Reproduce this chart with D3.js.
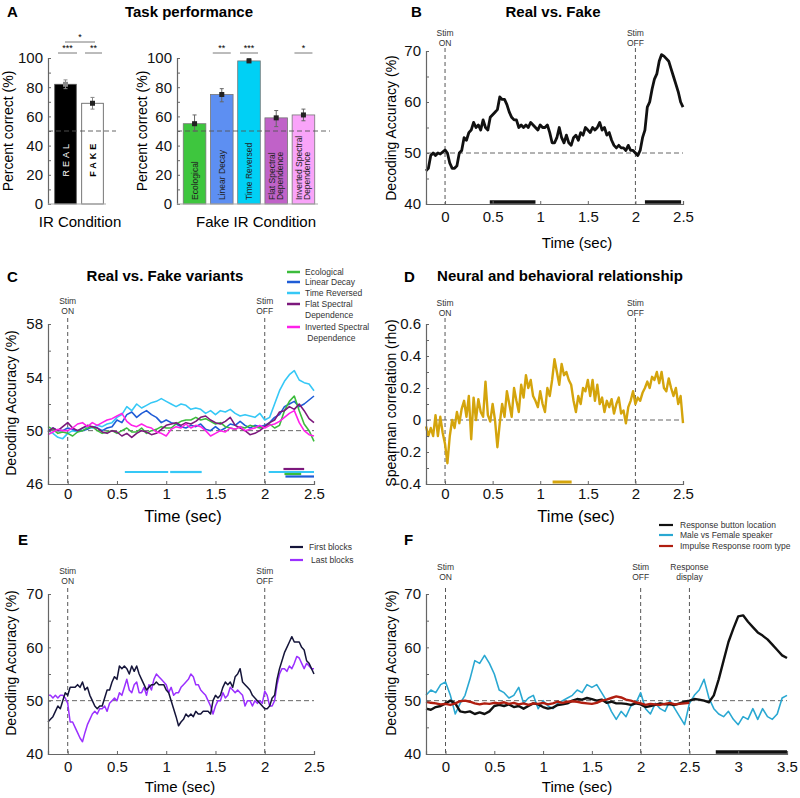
<!DOCTYPE html>
<html><head><meta charset="utf-8">
<script src="https://cdn.jsdelivr.net/npm/d3@7"></script>
<style>body{margin:0;background:#fff}svg{display:block;font-family:"Liberation Sans",Arial,sans-serif}</style>
</head><body><svg id="c" width="800" height="798"></svg>
<script>
// ---------- DATA ----------
const irCategories = ["REAL", "FAKE"];
const irValues = [82, 69];
const irErrLow = [79, 65];
const irErrHigh = [85, 73];

const fakeCategories = ["Ecological", "Linear Decay", "Time Reversed", "Flat Spectral Dependence", "Inverted Spectral Dependence"];
const fakeValues = [55, 75, 98, 59, 61];
const fakeErrLow = [50, 70, 97, 53, 57];
const fakeErrHigh = [61, 79, 99.5, 64, 65];
const fakeSig = ["", "**", "***", "", "*"];

const timeTicks = [0, 0.5, 1, 1.5, 2, 2.5];
const timeTicksF = [0, 0.5, 1, 1.5, 2, 2.5, 3, 3.5];

// Panel B: Real vs Fake (t from -0.2, step 0.025)
const realFake = [46.5,47,49.5,50,49.5,50,49.8,50.2,50.6,50,48,47,47,47.5,50,50.5,53,52.5,54,54.5,56,55,55.5,54.5,56.5,55,54.5,57,57.5,58,58.5,61,60.5,60.5,59.5,58,57,56.5,56.5,55,55.5,55,55.5,55,56,55.5,55,54.5,55.5,55,55,55.5,54,52,52,53,55,53,52,53.5,52,51.5,53,53.5,52.5,54,53.5,55,54.5,54,55,54.5,55,56,54.5,55,53.5,54,52.5,51.5,51,51.5,51,51,50.5,51.5,50.5,50.5,50,49.5,50.5,53,54.5,59,60,62.5,64.5,65.5,68,69.3,69,68.5,68,66.5,65,63.5,62,60,59];
const realFakeSig = [[0.47, 0.95], [2.1, 2.48]];

// Panel C: variants (t from -0.2, step 0.05)
const ecological = [50.3,50.1,49.8,49.9,49.8,49.6,49.9,50,50.2,50.3,50,49.8,49.9,50,49.8,50,50.2,49.9,49.9,50.2,49.8,50,50.1,50.3,50.2,50.2,50.5,50.7,50.8,50.8,51,50.8,50.9,50.7,50.5,50.6,50.3,50.2,50.1,50.3,50.2,50.4,50.3,50.2,50.3,50.5,50.2,50.4,51.5,52.2,52.6,51.5,50.5,50,49.2];
const linearDecay = [50,50.2,50,50,50.2,50.1,50,50,50.1,50.3,50.2,50,50.2,50.3,50.8,50.6,51.2,51.4,51,51.3,51.5,51.2,51,50.6,50.8,50.6,50.5,50.3,50.2,50.4,50.3,50.5,50.1,50,50.3,50,50.2,50.5,50.4,50.7,50.4,50.2,50.4,50.3,50.4,50.6,51,51.2,51.8,52,52.2,51.8,52,52.3,52.6];
const timeReversed = [50,49.8,49.5,49.4,49.8,50,49.9,50.2,50.3,50.2,50.4,50.3,50.5,50.6,51,51.2,51.8,51.5,52,51.7,51.9,52.1,52.2,52.4,52.2,52,51.8,52,51.9,51.6,51.7,51.6,51.3,51.5,51.2,51.5,51.4,51.6,51.3,51.1,51.2,51.1,51,51.3,50.8,51,52,53,53.7,54.2,54.5,53.8,53.6,53.5,53];
const flatSpectral = [49.9,50.2,50,50.3,50.6,50.2,50,50.2,50.4,50.3,50.2,49.9,49.8,50,49.9,49.6,49.8,49.5,49.8,50,49.9,49.7,49.8,50.1,50.4,50.5,50.6,50.4,50.6,50.5,50.7,51,51.1,50.8,50.6,50.5,50.7,51,50.4,50.2,50,49.7,49.8,50,50.3,50.6,50.8,51.4,51.5,51.8,51.6,52,51.5,50.9,50.6];
const invertedSpectral = [49.7,49.9,50.1,50,50,50.2,50.5,50.6,50.3,50.6,50.4,50.6,50.8,50.9,51.1,51.3,50.7,50.4,50.3,50.5,50.3,50.2,49.9,49.8,49.6,50.1,50.3,50.2,50.5,50.2,50.4,50.3,50,49.6,49.8,50,49.9,50.2,50.1,50.3,50,50.1,50.2,50.4,50.2,50.4,50.5,50.7,51,51.3,51.5,50.6,50,49.7,49.6];
const variantNames = ["Ecological", "Linear Decay", "Time Reversed", "Flat Spectral\nDependence", "Inverted Spectral\n Dependence"];
const variantSig = [
  {series: 2, ranges: [[0.58, 1.02], [1.04, 1.36], [2.04, 2.5]]},
  {series: 3, ranges: [[2.19, 2.4]]},
  {series: 0, ranges: [[2.2, 2.37]]},
  {series: 1, ranges: [[2.21, 2.5]]}
];

// Panel D: Spearman rho (t from -0.2, step 0.025)
const rho = [-0.04,-0.1,-0.05,-0.1,0.03,-0.1,0.02,-0.08,-0.15,-0.27,-0.1,0,-0.05,0.05,-0.02,0.07,0.12,0.02,0.15,-0.12,0.14,0,0.13,0.05,0.02,0.24,0.03,-0.01,0.1,0,-0.17,-0.02,0.1,0.02,0.18,0.1,0.02,0.2,0.12,0.05,0.22,0.14,0.28,0.2,0.25,0.15,0.12,0.08,0.18,0.1,0.05,0.2,0.15,0.25,0.38,0.3,0.22,0.35,0.28,0.3,0.25,0.22,0.12,0.05,0.15,0.1,0.2,0.18,0.25,0.15,0.25,0.12,0.22,0.1,0.14,0.05,0.12,0.08,0.13,0.04,0.1,0.14,0.04,0.06,-0.02,0.08,0.12,0.18,0.1,0.14,0.12,0.17,0.2,0.24,0.2,0.27,0.25,0.3,0.23,0.3,0.2,0.18,0.26,0.2,0.15,0.2,0.1,0.15,-0.02];
const rhoSig = [[1.13, 1.33]];

// Panel E: first / last blocks (t from -0.2, step 0.025)
const firstBlocks = [46,46.5,47,48,49,48.5,50,51.5,51,52.5,52.5,52.5,53,52.5,53.5,52,52.5,51,50,49,48.5,49,49,50.5,52,52,53.5,54.5,54,56.5,56,56.5,56,55,56.5,55.5,56.5,55,54,53,52,52.5,53,53,53.5,53,53,53,52,51.5,50,48.5,47,45.3,46,46.5,47.5,47,47.5,47,48,47.5,47.5,48,48,48,47.5,50,51,50.5,51,52.5,53.5,53,53.5,52.5,54.5,55,56,53.5,53,52.5,52,51,50.5,50,49.5,49,48.5,48.5,49,50.5,51,54,56,57.5,59,60,61,62,61,61,61,60,59.5,57.5,57,56,55];
const lastBlocks = [51,51,50.5,51,50.5,51,51,50.5,49.5,46,46,45,44,43,42.3,44,45.5,46.5,47.5,48,47.5,48.5,48.5,49,48,49.5,50,50.5,50,51.5,51,52.5,54,52,51.5,53,53.5,51.5,51.5,52.5,51,53,52,54,55,54.5,54,53.5,53,51.5,52.5,51,51.5,51.5,52.5,53,53.5,54,55,54.5,53,53,52,51.5,51,50,49,47.5,49,50,50,51.5,50.5,51,52.5,52,51.5,52,51.5,51,49,50,50,49,50,49.5,50,49.5,51.8,51,49,49,50,53,55,56,56,55.5,56.5,56,57,58.3,58,57,56,57,56.5,56,56];
const blockNames = ["First blocks", "Last blocks"];

// Panel F (t from -0.2, step 0.05)
const responseButton = [48.5,48.3,48.8,49,49.5,50,49.5,48,47.8,48,47.5,47.8,47.5,48,49,49.2,49,49.3,48.8,49,48.5,49,49.5,49.3,48.8,48.5,48.7,49.2,49.3,49.5,50,50.3,50.2,50.5,50.3,50,50.2,49.6,49.8,49.5,49.5,49.4,49.2,49.5,49.3,48.8,49,49.2,49.5,49.3,49.3,49.2,49.5,49.8,50,50.3,50.2,50,49.7,51,54,57.5,61,63.5,65.8,66,64.8,63.8,62.8,62.2,61.5,60.5,59.5,58.5,58];
const speakerSex = [51,52,51.5,53,53.5,51,47.5,49.5,51,54,57.5,57,58.5,57,55,52,51.5,50.5,51,52.5,49.5,50.5,51,48.5,50,49,48.5,49.5,50,50.5,51,52,51.5,53,52.5,53,51.5,50,48,46.5,48,47,49,49.5,51.5,48.5,47.5,49.5,48.5,48,50,48.5,47,45.5,49.5,51,52,54,50.5,48.5,47.5,47,48,46.5,45.5,47,46.5,48.5,46.5,48.5,47,46.5,47.5,50.5,51];
const roomType = [49.8,49.6,49.5,49.3,49.4,49.2,49.5,49.9,50,49.8,49.5,49.3,49.5,49.4,49.6,49.5,49.7,49.4,49.6,49.3,49.5,49.2,49.5,49.4,49.6,49.3,49.5,49.8,49.6,49.8,49.9,49.8,49.6,49.5,49.4,49.6,50,50.2,50.5,50.8,50.6,50.2,50,49.7,49.5,49.2,49.4,49.3,49.2,49.4,49.6,49.3,49.4,49.5,49.6];
const fNames = ["Response button location", "Male vs Female speaker", "Impulse Response room type"];
const fSig = [[2.77, 3.5]];

// ---------- DRAWING ----------
const svg = d3.select("#c");
const FONT = '"Liberation Sans",Arial,sans-serif';
const AX = "#666";

function tSeries(vals, start, step){ return vals.map((v,i)=>({t: start + i*step, v})); }

function panelLetter(x,y,l){
  svg.append("text").attr("x",x).attr("y",y).attr("font-size",15).attr("font-weight","bold").text(l);
}
function title(x,y,t){
  svg.append("text").attr("x",x).attr("y",y).attr("text-anchor","middle").attr("font-size",15).attr("font-weight","bold").text(t);
}
function yLabel(x,y,t,fs){
  svg.append("text").attr("transform",`translate(${x},${y}) rotate(-90)`).attr("text-anchor","middle").attr("font-size",fs||14).text(t);
}
function yAxis(g, y, major, minor, x0, fmt){
  const ax = d3.axisLeft(y).tickValues(major).tickSize(-3).tickPadding(5).tickFormat(fmt||d3.format("~g"));
  const gg = g.append("g").attr("transform",`translate(${x0},0)`).call(ax);
  gg.select(".domain").attr("stroke",AX).attr("stroke-width",1.2);
  gg.selectAll(".tick line").attr("stroke",AX);
  gg.selectAll("text").attr("font-size",15).attr("font-family",FONT).attr("fill","#111");
  if(minor){
    const ax2 = d3.axisLeft(y).tickValues(minor).tickSize(-3).tickFormat("");
    const g2 = g.append("g").attr("transform",`translate(${x0},0)`).call(ax2);
    g2.select(".domain").remove(); g2.selectAll(".tick line").attr("stroke",AX);
  }
}
function xAxis(g, x, ticks, y0, pad){
  const ax = d3.axisBottom(x).tickValues(ticks).tickSize(-3).tickPadding(pad||7).tickFormat(d3.format("~g"));
  const gg = g.append("g").attr("transform",`translate(0,${y0})`).call(ax);
  gg.select(".domain").attr("stroke",AX).attr("stroke-width",1.2);
  gg.selectAll(".tick line").attr("stroke",AX);
  gg.selectAll("text").attr("font-size",15).attr("font-family",FONT).attr("fill","#111");
}
function stimMarker(g, x, tval, y, yTop, yBot, lines){
  const xp = x(tval);
  g.append("line").attr("x1",xp).attr("x2",xp).attr("y1",yTop).attr("y2",yBot)
    .attr("stroke","#444").attr("stroke-width",0.9).attr("stroke-dasharray","4,3");
  lines.forEach((s,i)=>g.append("text").attr("x",xp).attr("y",y+i*10).attr("text-anchor","middle")
    .attr("font-size",8.5).attr("fill","#333").text(s));
}
function hDash(g, x1, x2, yp){
  g.append("line").attr("x1",x1).attr("x2",x2).attr("y1",yp).attr("y2",yp)
    .attr("stroke","#555").attr("stroke-width",0.9).attr("stroke-dasharray","5,3");
}
function drawLine(g, x, y, data, color, w){
  g.append("path").datum(data).attr("fill","none").attr("stroke",color).attr("stroke-width",w)
    .attr("stroke-linejoin","round").attr("d",d3.line().x(d=>x(d.t)).y(d=>y(d.v)));
}
function sigBar(g, x, r, yp, color, w){
  g.append("line").attr("x1",x(r[0])).attr("x2",x(r[1])).attr("y1",yp).attr("y2",yp)
    .attr("stroke",color).attr("stroke-width",w);
}
function xLabel(x,y,t,fs){
  svg.append("text").attr("x",x).attr("y",y).attr("text-anchor","middle").attr("font-size",fs||15).text(t);
}

// ===== Panel A =====
panelLetter(7,17,"A");
title(189,17,"Task performance");
{
  const g = svg.append("g");
  const y = d3.scaleLinear().domain([0,100]).range([204,58]);
  const x = d3.scaleBand().domain(irCategories).range([52,106]).paddingInner(0.2).paddingOuter(0.1);
  const cols = ["#000","#fff"];
  irCategories.forEach((c,i)=>{
    g.append("rect").attr("x",x(c)).attr("y",y(irValues[i])).attr("width",x.bandwidth()).attr("height",y(0)-y(irValues[i]))
      .attr("fill",cols[i]).attr("stroke","#555").attr("stroke-width",0.8);
  });
  hDash(g, 48, 116, y(50));
  irCategories.forEach((c,i)=>{
    const cx = x(c)+x.bandwidth()/2;
    g.append("line").attr("x1",cx).attr("x2",cx).attr("y1",y(irErrLow[i])).attr("y2",y(irErrHigh[i])).attr("stroke","#888").attr("stroke-width",1);
    [irErrLow[i],irErrHigh[i]].forEach(v=>g.append("line").attr("x1",cx-2).attr("x2",cx+2).attr("y1",y(v)).attr("y2",y(v)).attr("stroke","#888"));
    g.append("rect").attr("x",cx-2.5).attr("y",y(irValues[i])-2.5).attr("width",5).attr("height",5).attr("fill",i===0?"#888":"#222");
    g.append("text").attr("transform",`translate(${cx+3},${y(31)}) rotate(-90)`).attr("text-anchor","middle")
      .attr("font-size",9).attr("letter-spacing",3).attr("font-weight",i===0?"normal":"bold")
      .attr("fill",i===0?"#fff":"#000").text(c);
  });
  yAxis(g, y, [0,20,40,60,80,100], [10,30,50,70,90], 48);
  g.append("line").attr("x1",48).attr("x2",106).attr("y1",204).attr("y2",204).attr("stroke","#aaa").attr("stroke-width",1.2);
  const sig = (x1,x2,yp,s)=>{ g.append("line").attr("x1",x1).attr("x2",x2).attr("y1",yp).attr("y2",yp).attr("stroke","#555").attr("stroke-width",0.8);
    g.append("text").attr("x",(x1+x2)/2).attr("y",yp-2).attr("text-anchor","middle").attr("font-size",9).text(s); };
  sig(58,77,53,"***"); sig(85,102,53,"**"); sig(65,95,42,"*");
  yLabel(13,131,"Percent correct (%)",14);
  xLabel(80,227,"IR Condition",15);
}
{
  const g = svg.append("g");
  const y = d3.scaleLinear().domain([0,100]).range([204,58]);
  const x = d3.scaleBand().domain(fakeCategories).range([180,318]).paddingInner(0.17).paddingOuter(0.12);
  const cols = ["#3ec63e","#5d8ff2","#00d0f5","#c062c8","#f9a4f9"];
  fakeCategories.forEach((c,i)=>{
    g.append("rect").attr("x",x(c)).attr("y",y(fakeValues[i])).attr("width",x.bandwidth()).attr("height",y(0)-y(fakeValues[i]))
      .attr("fill",cols[i]).attr("stroke","#777").attr("stroke-width",0.8);
  });
  hDash(g, 177, 330, y(50));
  fakeCategories.forEach((c,i)=>{
    const cx = x(c)+x.bandwidth()/2;
    g.append("line").attr("x1",cx).attr("x2",cx).attr("y1",y(fakeErrLow[i])).attr("y2",y(fakeErrHigh[i])).attr("stroke","#666").attr("stroke-width",1);
    [fakeErrLow[i],fakeErrHigh[i]].forEach(v=>g.append("line").attr("x1",cx-2).attr("x2",cx+2).attr("y1",y(v)).attr("y2",y(v)).attr("stroke","#666"));
    g.append("rect").attr("x",cx-2.5).attr("y",y(fakeValues[i])-2.5).attr("width",5).attr("height",5).attr("fill","#222");
    const words = c.split(" ");
    const lines = words.length>2 ? [words.slice(0,2).join(" "), words.slice(2).join(" ")] : [c];
    const t = g.append("text").attr("transform",`translate(${cx},${y(0)-4}) rotate(-90)`).attr("font-size",8.5).attr("fill","#222");
    if(lines.length===1){ t.append("tspan").attr("x",0).attr("dy",3).text(lines[0]); }
    else { t.append("tspan").attr("x",0).attr("dy",-1).text(lines[0]); t.append("tspan").attr("x",0).attr("dy",8).text(lines[1]); }
    if(fakeSig[i]){
      g.append("line").attr("x1",cx-9).attr("x2",cx+9).attr("y1",53).attr("y2",53).attr("stroke","#555").attr("stroke-width",0.8);
      g.append("text").attr("x",cx).attr("y",51).attr("text-anchor","middle").attr("font-size",9).text(fakeSig[i]);
    }
  });
  yAxis(g, y, [0,20,40,60,80,100], [10,30,50,70,90], 177);
  g.append("line").attr("x1",177).attr("x2",318).attr("y1",204).attr("y2",204).attr("stroke","#aaa").attr("stroke-width",1.2);
  yLabel(147,131,"Percent correct (%)",14);
  xLabel(256,227,"Fake IR Condition",15);
}

// ===== Panel B =====
panelLetter(411,17,"B");
title(553,17,"Real vs. Fake");
{
  const g = svg.append("g");
  const x = d3.scaleLinear().domain([-0.2,2.5]).range([426,683]);
  const y = d3.scaleLinear().domain([40,70]).range([204,51]);
  stimMarker(g,x,0,36,48,204,["Stim","ON"]);
  stimMarker(g,x,2,36,48,204,["Stim","OFF"]);
  hDash(g, 426, 683, y(50));
  drawLine(g,x,y,tSeries(realFake,-0.2,0.025),"#111",2.8);
  realFakeSig.forEach(r=>sigBar(g,x,r,202,"#111",3.5));
  yAxis(g,y,[40,50,60,70],[45,55,65],426);
  xAxis(g,x,timeTicks,204);
  yLabel(396,128,"Decoding Accuracy (%)",14);
  xLabel(577,248,"Time (sec)",15);
}

// ===== Panel C =====
panelLetter(7,282,"C");
title(165,281,"Real vs. Fake variants");
{
  const g = svg.append("g");
  const x = d3.scaleLinear().domain([-0.2,2.5]).range([48,314]);
  const y = d3.scaleLinear().domain([46,58]).range([484,324]);
  stimMarker(g,x,0,304,318,484,["Stim","ON"]);
  stimMarker(g,x,2,304,318,484,["Stim","OFF"]);
  hDash(g, 48, 314, y(50));
  const series = [ecological, linearDecay, timeReversed, flatSpectral, invertedSpectral];
  const cols = ["#3cbc3c","#1f5cd6","#36c8f6","#7c187c","#ff20ea"];
  const order = [2,1,0,3,4];
  order.forEach(i=>drawLine(g,x,y,tSeries(series[i],-0.2,0.05),cols[i],1.6));
  const sigY = {2: 472, 3: 469, 0: 474, 1: 476.5};
  variantSig.forEach(s=>s.ranges.forEach(r=>sigBar(g,x,r,sigY[s.series],cols[s.series],2.2)));
  yAxis(g,y,[46,50,54,58],[48,52,56],48);
  xAxis(g,x,timeTicks,484,4);
  const ly = [272,282,293,304,327];
  variantNames.forEach((n,i)=>{
    g.append("line").attr("x1",287).attr("x2",300).attr("y1",ly[i]).attr("y2",ly[i]).attr("stroke",cols[i]).attr("stroke-width",2.5);
    n.split("\n").forEach((s,j)=>g.append("text").attr("x",305).attr("y",ly[i]+3+j*11).attr("font-size",8.5).attr("fill","#333").attr("xml:space","preserve").text(s));
  });
  yLabel(16,403,"Decoding Accuracy (%)",14);
  xLabel(183,522,"Time (sec)",16.5);
}

// ===== Panel D =====
panelLetter(404,282,"D");
title(560,281,"Neural and behavioral relationship");
{
  const g = svg.append("g");
  const x = d3.scaleLinear().domain([-0.2,2.5]).range([426,683]);
  const y = d3.scaleLinear().domain([-0.4,0.6]).range([484,324]);
  stimMarker(g,x,0,306,318,484,["Stim","ON"]);
  stimMarker(g,x,2,306,318,484,["Stim","OFF"]);
  hDash(g, 426, 683, y(0));
  drawLine(g,x,y,tSeries(rho,-0.2,0.025),"#d4a40c",2.4);
  rhoSig.forEach(r=>sigBar(g,x,r,482,"#d4a40c",3));
  yAxis(g,y,[-0.4,-0.2,0,0.2,0.4,0.6],[-0.3,-0.1,0.1,0.3,0.5],426,d3.format("~g"));
  xAxis(g,x,timeTicks,484,4);
  yLabel(396,403,"Spearman correlation (rho)",14);
  xLabel(576,522,"Time (sec)",16.5);
}

// ===== Panel E =====
panelLetter(18,545,"E");
{
  const g = svg.append("g");
  const x = d3.scaleLinear().domain([-0.2,2.5]).range([48,314]);
  const y = d3.scaleLinear().domain([40,70]).range([754,594]);
  stimMarker(g,x,0,574,588,754,["Stim","ON"]);
  stimMarker(g,x,2,574,588,754,["Stim","OFF"]);
  hDash(g, 48, 314, y(50));
  drawLine(g,x,y,tSeries(lastBlocks,-0.2,0.025),"#9b30ff",1.5);
  drawLine(g,x,y,tSeries(firstBlocks,-0.2,0.025),"#15153a",1.5);
  yAxis(g,y,[40,50,60,70],[45,55,65],48);
  xAxis(g,x,timeTicks,754);
  const cols = ["#15153a","#9b30ff"]; const ly=[547,560];
  blockNames.forEach((n,i)=>{
    g.append("line").attr("x1",290).attr("x2",303).attr("y1",ly[i]).attr("y2",ly[i]).attr("stroke",cols[i]).attr("stroke-width",2.2);
    g.append("text").attr("x",i===0?309:311).attr("y",ly[i]+3).attr("font-size",8.5).attr("fill","#333").text(n);
  });
  yLabel(16,663,"Decoding Accuracy (%)",14);
  xLabel(180,792,"Time (sec)",15);
}

// ===== Panel F =====
panelLetter(404,545,"F");
{
  const g = svg.append("g");
  const x = d3.scaleLinear().domain([-0.2,3.5]).range([426,787]);
  const y = d3.scaleLinear().domain([40,70]).range([754,594]);
  stimMarker(g,x,0,570,588,754,["Stim","ON"]);
  stimMarker(g,x,2,570,588,754,["Stim","OFF"]);
  stimMarker(g,x,2.5,570,588,754,["Response","display"]);
  hDash(g, 426, 787, y(50));
  const cols = ["#111","#2aa8d2","#b01e10"];
  drawLine(g,x,y,tSeries(speakerSex,-0.2,0.05),cols[1],1.6);
  drawLine(g,x,y,tSeries(responseButton,-0.2,0.05),cols[0],2.4);
  drawLine(g,x,y,tSeries(roomType,-0.2,0.05),cols[2],2.4);
  fSig.forEach(r=>sigBar(g,x,r,752,"#111",3.5));
  yAxis(g,y,[40,50,60,70],[45,55,65],426);
  xAxis(g,x,timeTicksF,754);
  const ly=[525,535,546];
  fNames.forEach((n,i)=>{
    g.append("line").attr("x1",659).attr("x2",673).attr("y1",ly[i]).attr("y2",ly[i]).attr("stroke",cols[i]).attr("stroke-width",2.2);
    g.append("text").attr("x",680).attr("y",ly[i]+3).attr("font-size",8.5).attr("fill","#333").text(n);
  });
  yLabel(396,663,"Decoding Accuracy (%)",14);
  xLabel(577,792,"Time (sec)",15);
}
</script></body></html>
